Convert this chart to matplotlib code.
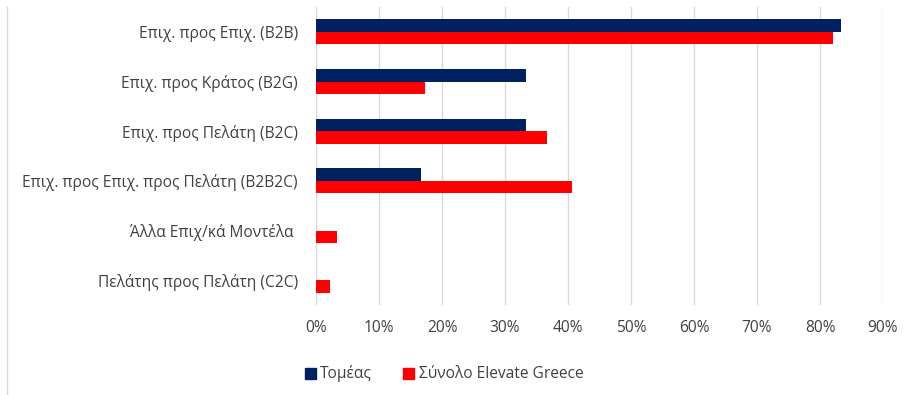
import matplotlib.pyplot as plt
from matplotlib.patches import Patch
from matplotlib.lines import Line2D

categories = [
    "Επιχ. προς Επιχ. (B2B)",
    "Επιχ. προς Κράτος (B2G)",
    "Επιχ. προς Πελάτη (B2C)",
    "Επιχ. προς Επιχ. προς Πελάτη (B2B2C)",
    "Άλλα Επιχ/κά Μοντέλα ",
    "Πελάτης προς Πελάτη (C2C)",
]
tomeas = [83.3, 33.3, 33.3, 16.7, 0, 0]
synolo = [82.0, 17.3, 36.7, 40.6, 3.3, 2.3]
series_names = ["Τομέας", "Σύνολο Elevate Greece"]
xticks = [0, 10, 20, 30, 40, 50, 60, 70, 80, 90]

navy = "#002060"
red = "#FF0000"
txt = "#404040"

plt.rcParams['font.family'] = ['Open Sans', 'DejaVu Sans']

fig = plt.figure(figsize=(9.18, 3.95), dpi=100)
ax = fig.add_axes([316 / 918, 1 - 305 / 395, 567 / 918, 298 / 395])

pos = list(range(len(categories)))
h = 0.25
ax.barh([p - h / 2 for p in pos], tomeas, height=h, color=navy, zorder=3)
ax.barh([p + h / 2 for p in pos], synolo, height=h, color=red, zorder=3)

ax.set_ylim(len(categories) - 0.5, -0.5)
ax.set_xlim(0, 90)
ax.set_yticks(pos)
ax.set_yticklabels(categories, fontsize=11.2, color=txt)
ax.set_xticks(xticks)
ax.set_xticklabels([f"{v}%" for v in xticks], fontsize=11.2, color=txt)
ax.tick_params(axis='y', length=0, pad=13)
ax.tick_params(axis='x', length=0, pad=11)
for s in ax.spines.values():
    s.set_visible(False)
ax.grid(axis='x', color="#d9d9d9", linewidth=1, zorder=0)

handles = [Patch(color=navy), Patch(color=red)]
fig.legend(handles, series_names, loc='center', bbox_to_anchor=(444 / 918, 1 - 374 / 395),
           ncol=2, frameon=False, fontsize=11.2, labelcolor=txt,
           handlelength=0.7, handleheight=0.7, handletextpad=0.3, columnspacing=2.0)

fig.add_artist(Line2D([7 / 918, 7 / 918], [0, 1 - 7 / 395], color="#d9d9d9", linewidth=1,
                      transform=fig.transFigure))

fig.savefig("out.png", dpi=100)
